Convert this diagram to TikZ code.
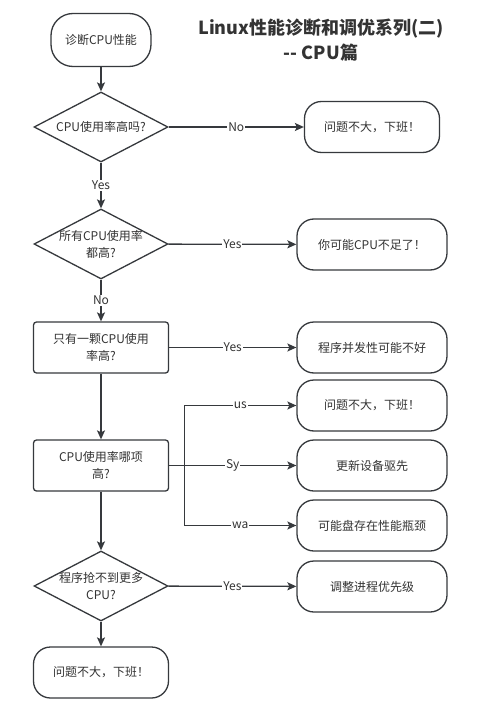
\documentclass[tikz,border=0pt]{standalone}
\usepackage{fontspec}
\setmainfont{Noto Sans CJK SC}
\usetikzlibrary{shapes.geometric,arrows.meta}
\definecolor{linegray}{HTML}{36393D}
\definecolor{textgray}{HTML}{333333}
\tikzset{
 txt/.style={align=center,text=textgray,font=\fontsize{12pt}{17pt}\selectfont},
 box/.style={txt,draw=linegray,line width=1.3pt,rounded corners=3pt,minimum width=135pt,minimum height=51pt,inner sep=0pt},
 term/.style={box,rounded corners=17pt,minimum width=150pt},
 dia/.style={diamond,draw=linegray,line width=1.3pt,minimum width=134pt,minimum height=70pt,inner sep=0pt},
 flow/.style={draw=linegray,line width=1.3pt,-{Stealth[length=9pt,width=8pt,inset=2pt]}},
 lbl/.style={fill=white,inner sep=1pt,text=textgray,font=\fontsize{12pt}{14pt}\selectfont}
}
\begin{document}
\begin{tikzpicture}[x=1pt,y=-1pt]
 \useasboundingbox[fill=white](0,0) rectangle (481,722);
 \node[align=center,text=textgray,font=\fontsize{18pt}{25pt}\selectfont\bfseries] (title) at (321,40) {Linux性能诊断和调优系列(二)\\-\kern0pt- CPU篇};
 \node[term,minimum width=100pt,minimum height=53pt,rounded corners=22pt] (start) at (101,40) {诊断CPU性能};
 \node[dia,label={[txt]center:CPU使用率高吗?}] (q1) at (101,127) {};
 \node[term,minimum width=135pt] (ok1) at (372,127) {问题不大，下班！};
 \node[dia,label={[txt]center:所有CPU使用率\\都高?}] (q2) at (101,244) {};
 \node[term] (r2) at (372,244.5) {你可能CPU不足了！};
 \node[box] (q3) at (101,347.5) {只有一颗CPU使用\\率高?};
 \node[term] (r3) at (372,347.5) {程序并发性可能不好};
 \node[box] (q4) at (101,465.5) {CPU使用率哪项\\高?};
 \node[term] (r4) at (372,405.5) {问题不大，下班！};
 \node[term] (r5) at (372,465.5) {更新设备驱先};
 \node[term] (r6) at (372,525.5) {可能盘存在性能瓶颈};
 \node[dia,label={[txt]center:程序抢不到更多\\CPU?}] (q5) at (101,586) {};
 \node[term] (r7) at (372,586.5) {调整进程优先级};
 \node[term,minimum width=135pt] (ok2) at (101,672.5) {问题不大，下班！};
 \coordinate (fork) at ([xshift=15pt]q4.east);
 \draw[flow] (start) -- (q1);
 \draw[flow] (q1) -- node[lbl]{No} (ok1);
 \draw[flow] (q1) -- node[lbl]{Yes} (q2);
 \draw[flow] (q2) -- node[lbl]{Yes} (r2);
 \draw[flow] (q2) -- node[lbl]{No} (q3);
 \draw[flow] (q3) -- node[lbl]{Yes} (r3);
 \draw[flow] (q3) -- (q4);
 \draw[flow] (q4) -- node[lbl]{Sy} (r5);
 \draw[flow] (fork) |- node[lbl,pos=0.75]{us} (r4);
 \draw[flow] (fork) |- node[lbl,pos=0.75]{wa} (r6);
 \draw[flow] (q4) -- (q5);
 \draw[flow] (q5) -- node[lbl]{Yes} (r7);
 \draw[flow] (q5) -- (ok2);
\end{tikzpicture}
\end{document}
